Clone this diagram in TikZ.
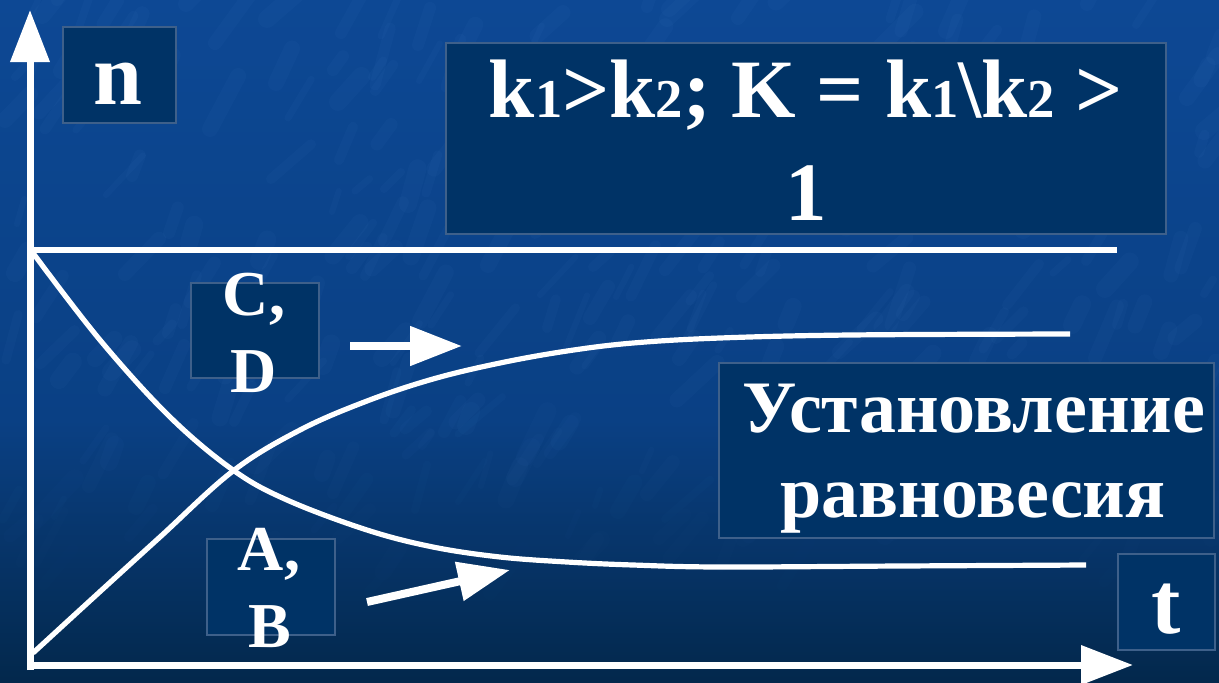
\documentclass[tikz,border=0pt]{standalone}
\usepackage{fontspec}
\setmainfont{Liberation Serif}[BoldFont={Liberation Serif Bold}]
\newfontfamily\tnrfont{Liberation Serif}[BoldFont={Liberation Serif Bold}]
\usetikzlibrary{arrows.meta}
\definecolor{bgtop}{RGB}{13,72,148}
\definecolor{bgmid}{RGB}{10,64,132}
\definecolor{bgbot}{RGB}{3,40,76}
\definecolor{streak}{RGB}{75,135,205}
\definecolor{boxfill}{RGB}{0,51,102}
\definecolor{boxline}{RGB}{62,96,138}
\newcommand{\pxsize}[1]{\fontsize{#1}{#1}\selectfont}
\newcommand{\subdig}[1]{{\pxsize{41pt}#1}}
\begin{document}
\begin{tikzpicture}[x=0.75pt,y=-0.75pt,
  boxnode/.style={draw=boxline, line width=1.5pt, fill=boxfill, inner sep=0pt, anchor=north west},
  lbl/.style={text=white, anchor=base, inner sep=0pt},
  axisline/.style={draw=white, line width=5.25pt, -{Triangle[length=39pt,width=28.5pt]}},
  levelline/.style={draw=white, line width=5pt},
  curveline/.style={draw=white, line width=3.9pt},
  pointer/.style={draw=white, line width=6pt, -{Triangle[length=39pt,width=28.5pt]}}]
\useasboundingbox (0,0) rectangle (1219,682);
\shade[top color=bgtop, bottom color=bgmid] (0,0) rectangle (1219,420);
\shade[top color=bgmid, bottom color=bgbot] (0,420) rectangle (1219,682);
% marble-like texture
\pgfmathsetseed{11}
\foreach \i in {1,...,340}{
  \pgfmathsetmacro{\sx}{random(0,1219)}
  \pgfmathsetmacro{\sy}{random(0,640)}
  \pgfmathsetmacro{\sl}{random(15,60)}
  \pgfmathsetmacro{\sa}{random(40,75)}
  \pgfmathsetmacro{\sw}{random(6,18)*0.75}
  \pgfmathsetmacro{\so}{0.055*max(0,1-max(0,\sy-380)/260)}
  \draw[streak, opacity=\so, line width=\sw pt, line cap=round] (\sx,\sy) -- ++({\sl*cos(\sa)},{-\sl*sin(\sa)});
}

% boxes
\node[boxnode, minimum width=84.75pt, minimum height=72pt] (nbox) at (62,26) {};
\node[boxnode, minimum width=540pt, minimum height=143.25pt] (kbox) at (445,42) {};
\node[boxnode, minimum width=96pt, minimum height=71.25pt] (cdbox) at (190,282) {};
\node[boxnode, minimum width=96pt, minimum height=72pt] (abbox) at (206,538) {};
\node[boxnode, minimum width=371.25pt, minimum height=131.25pt] (eqbox) at (718,362) {};
\node[boxnode, minimum width=72.75pt, minimum height=72pt] (tbox) at (1117,553) {};

% axes
\coordinate (origin) at (30,670);
\coordinate (ytip) at (30,10);
\coordinate (xorig) at (27,665);
\coordinate (xtip) at (1133,665);
\draw[axisline] (origin) -- (ytip);
\draw[axisline] (xorig) -- (xtip);
\coordinate (lvlA) at (30,250);
\coordinate (lvlB) at (1117,250);
\draw[levelline] (lvlA) -- (lvlB);

% curves
\draw[curveline] plot[smooth, tension=0.6] coordinates {(33,253) (100,340) (170,417) (233,470) (287,500) (367,530) (433,547) (500,557) (567,562) (633,565) (720,567) (900,566) (1086,565)};
\draw[curveline] plot[smooth, tension=0.6] coordinates {(33,653) (93,598) (160,537) (233,471) (300,430) (367,401) (433,379) (500,363) (567,351) (633,343) (720,338) (850,335) (1070,334)};

% pointers
\coordinate (cdS) at (350,346);
\coordinate (cdE) at (462,346);
\draw[pointer] (cdS) -- (cdE);
\coordinate (abS) at (367,602);
\coordinate (abE) at (510,570);
\draw[pointer] (abS) -- (abE);

% labels
\node[lbl, font=\tnrfont\bfseries\pxsize{66pt}] (nlbl) at (118,104) {n};
\node[lbl, font=\tnrfont\bfseries\pxsize{62.25pt}] (klbl) at (806,117) {k\subdig{1}>k\subdig{2}; K = k\subdig{1}\textbackslash k\subdig{2} >};
\node[lbl, font=\tnrfont\bfseries\pxsize{62.25pt}] (onelbl) at (806,220) {1};
\node[lbl, font=\tnrfont\bfseries\pxsize{48pt}] (clbl) at (254,315) {C,};
\node[lbl, font=\tnrfont\bfseries\pxsize{48pt}] (dlbl) at (254,392) {D};
\node[lbl, font=\tnrfont\bfseries\pxsize{48pt}] (albl) at (269,570) {A,};
\node[lbl, font=\tnrfont\bfseries\pxsize{48pt}] (blbl) at (270,647) {B};
\node[lbl, font=\tnrfont\bfseries\pxsize{55.5pt}] (eq1) at (974,432) {Установление};
\node[lbl, font=\tnrfont\bfseries\pxsize{55.5pt}] (eq2) at (973,517) {равновесия};
\node[lbl, font=\tnrfont\bfseries\pxsize{66pt}] (tlbl) at (1166,633) {t};
\end{tikzpicture}
\end{document}
